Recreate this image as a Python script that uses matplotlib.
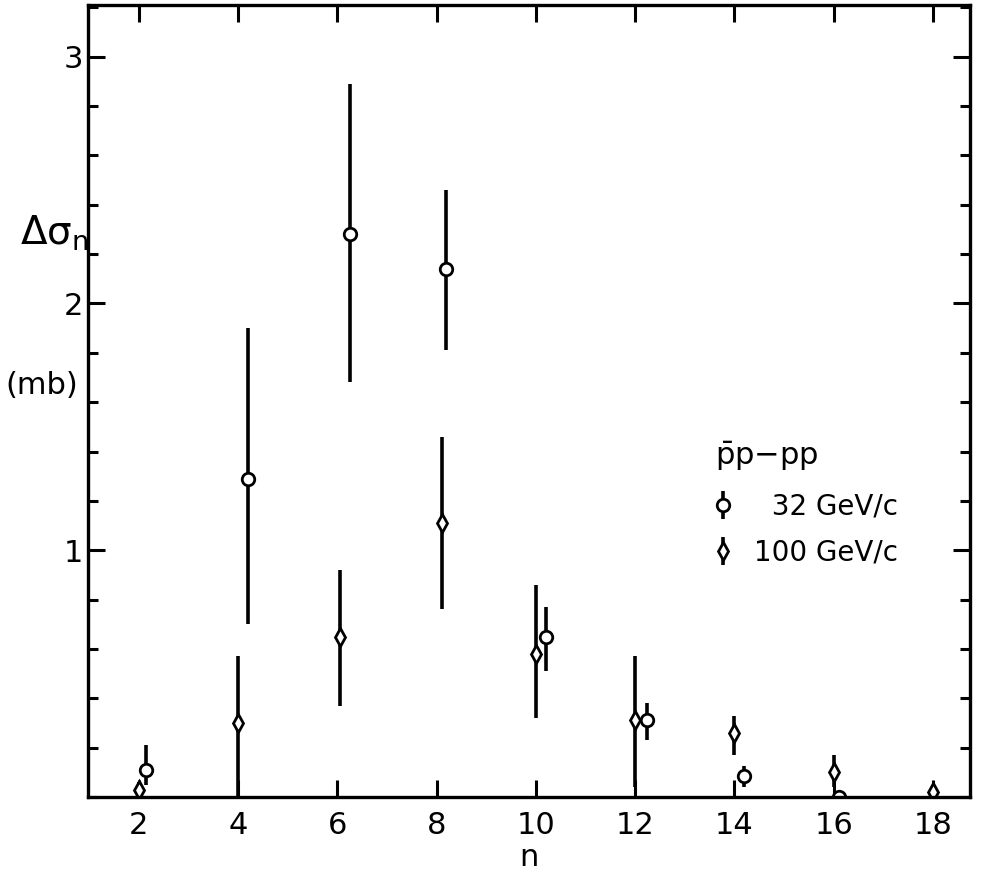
import matplotlib
matplotlib.use("Agg")
import matplotlib.pyplot as plt
from matplotlib.ticker import MultipleLocator

# 32 GeV/c (pbar p - pp)
n_32 = [2.15, 4.2, 6.25, 8.2, 10.2, 12.25, 14.2, 16.1]
ds_32 = [0.11, 1.29, 2.28, 2.14, 0.65, 0.31, 0.085, 0.0]
lo_32 = [0.05, 0.70, 1.68, 1.81, 0.51, 0.23, 0.04, 0.0]
hi_32 = [0.21, 1.90, 2.89, 2.46, 0.77, 0.38, 0.125, 0.0]

# 100 GeV/c
n_100 = [2.0, 4.0, 6.05, 8.1, 10.0, 12.0, 14.0, 16.0, 18.0]
ds_100 = [0.03, 0.30, 0.65, 1.11, 0.58, 0.31, 0.26, 0.10, 0.02]
lo_100 = [0.0, 0.0, 0.37, 0.76, 0.32, 0.04, 0.17, 0.04, -0.05]
hi_100 = [0.06, 0.57, 0.92, 1.46, 0.86, 0.57, 0.33, 0.17, 0.02]

xticks = [2, 4, 6, 8, 10, 12, 14, 16, 18]
yticks = [1, 2, 3]

plt.rcParams["font.family"] = "DejaVu Sans"
plt.rcParams["mathtext.fontset"] = "dejavusans"

fig = plt.figure(figsize=(9.96, 8.82), dpi=100)
ax = fig.add_axes([0.088, 0.0964, 0.886, 0.898])

def yerr(v, lo, hi):
    return [[a - b for a, b in zip(v, lo)], [c - a for a, c in zip(v, hi)]]

ax.errorbar(n_32, ds_32, yerr=yerr(ds_32, lo_32, hi_32), fmt="o", color="black",
            mfc="white", mec="black", ms=9, mew=2, elinewidth=2.6, capsize=0,
            label="  32 GeV/c")
ax.errorbar(n_100, ds_100, yerr=yerr(ds_100, lo_100, hi_100), fmt="d", color="black",
            mfc="white", mec="black", ms=9, mew=2, elinewidth=2.6, capsize=0,
            label="100 GeV/c")

ax.set_xlim(0.97, 18.75)
ax.set_ylim(0, 3.21)
ax.set_xticks(xticks)
ax.set_yticks(yticks)
ax.yaxis.set_minor_locator(MultipleLocator(0.2))
ax.tick_params(axis="both", which="major", direction="in", length=12, width=2.2,
               labelsize=22, top=True, right=True)
ax.tick_params(axis="x", which="major", pad=10)
ax.tick_params(axis="y", which="major", pad=3)
ax.tick_params(axis="y", which="minor", direction="in", length=7, width=2.2,
               left=True, right=True)
for s in ax.spines.values():
    s.set_linewidth(2.4)

ax.set_xlabel("n", fontsize=22, labelpad=2)
fig.text(0.02, 0.735, "Δσ$_\\mathrm{n}$", fontsize=28, ha="left", va="center")
fig.text(0.005, 0.563, "(mb)", fontsize=22, ha="left", va="center")

leg = ax.legend(loc="upper left", bbox_to_anchor=(0.698, 0.465), frameon=False,
                fontsize=20, handlelength=0.6, handletextpad=0.8, labelspacing=0.65,
                title=r"$\bar{\mathrm{p}}$p$-$pp", title_fontsize=22,
                alignment="left", borderaxespad=0)
leg._legend_box.sep = 14

fig.savefig("out.png", dpi=100)
